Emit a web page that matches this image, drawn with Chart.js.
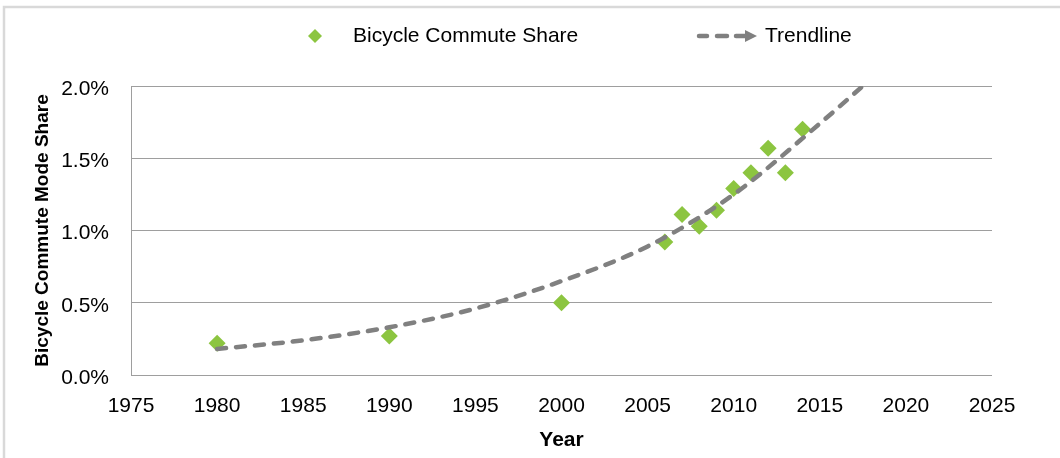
<!DOCTYPE html>
<html><head><meta charset="utf-8">
<script src="https://cdn.jsdelivr.net/npm/chart.js@4.4.1/dist/chart.umd.min.js"></script>
<style>html,body{margin:0;padding:0;background:#fff;}canvas{display:block;}</style>
</head><body>
<canvas id="c" width="1060" height="458"></canvas>
<script>
// ---- data ----
const years = [1980, 1990, 2000, 2006, 2007, 2008, 2009, 2010, 2011, 2012, 2013, 2014];
const sharePct = [0.22, 0.27, 0.50, 0.92, 1.11, 1.03, 1.14, 1.29, 1.40, 1.57, 1.40, 1.70];
const trendYears = [1980, 1985, 1990, 1995, 2000, 2005, 2010, 2015, 2017.5];
const trendPct = [0.18, 0.24, 0.33, 0.46, 0.65, 0.89, 1.25, 1.74, 2.00];
const xTickValues = [1975, 1980, 1985, 1990, 1995, 2000, 2005, 2010, 2015, 2020, 2025];
const yTickValues = [0, 0.5, 1.0, 1.5, 2.0];
const seriesLabels = ['Bicycle Commute Share', 'Trendline'];
const xTitle = 'Year';
const yTitle = 'Bicycle Commute Mode Share';

const FONT = "'Liberation Sans', Arial, sans-serif";
const GREEN = '#8cc540';
const GRAY = '#808080';
const GRID = '#9e9e9e';

Chart.defaults.font.family = FONT;
Chart.defaults.font.size = 21;
Chart.defaults.color = '#000';

const frame = {
  id: 'frame',
  beforeDraw(chart) {
    const ctx = chart.ctx;
    ctx.save();
    ctx.fillStyle = '#fff';
    ctx.fillRect(0, 0, chart.width, chart.height);
    ctx.strokeStyle = '#d9d9d9';
    ctx.lineWidth = 2.5;
    ctx.strokeRect(4, 7, 1200, 600);
    ctx.restore();
  }
};

const customLegend = {
  id: 'customLegend',
  afterDraw(chart) {
    const ctx = chart.ctx;
    const ds = chart.data.datasets;
    const y = 36;
    ctx.save();
    // diamond marker
    ctx.fillStyle = ds[0].backgroundColor;
    ctx.beginPath();
    ctx.moveTo(315 - 7, y); ctx.lineTo(315, y - 7); ctx.lineTo(315 + 7, y); ctx.lineTo(315, y + 7);
    ctx.closePath(); ctx.fill();
    ctx.font = '21px ' + FONT;
    ctx.textBaseline = 'middle';
    ctx.textAlign = 'left';
    ctx.fillStyle = '#000';
    ctx.fillText(ds[0].label, 353, y);
    // dashed arrow marker
    ctx.strokeStyle = ds[1].borderColor;
    ctx.fillStyle = ds[1].borderColor;
    ctx.lineWidth = 4.5;
    ctx.lineCap = 'round';
    [[699, 707], [717, 727], [736, 746]].forEach(([a, b]) => {
      ctx.beginPath(); ctx.moveTo(a, y); ctx.lineTo(b, y); ctx.stroke();
    });
    ctx.beginPath();
    ctx.moveTo(745, y - 6); ctx.lineTo(757, y); ctx.lineTo(745, y + 6); ctx.closePath(); ctx.fill();
    ctx.fillStyle = '#000';
    ctx.fillText(ds[1].label, 765, y);
    ctx.restore();
  }
};

new Chart(document.getElementById('c'), {
  type: 'scatter',
  data: {
    datasets: [
      {
        label: seriesLabels[0],
        data: years.map((x, i) => ({x, y: sharePct[i]})),
        backgroundColor: GREEN,
        borderColor: GREEN,
        pointStyle: 'rectRot',
        pointRadius: 8.5,
        pointBorderWidth: 0,
        order: 1
      },
      {
        label: seriesLabels[1],
        data: trendYears.map((x, i) => ({x, y: trendPct[i]})),
        showLine: true,
        borderColor: GRAY,
        backgroundColor: GRAY,
        borderWidth: 4.5,
        borderDash: [9, 10],
        borderCapStyle: 'round',
        cubicInterpolationMode: 'monotone',
        pointRadius: 0,
        fill: false,
        order: 0
      }
    ]
  },
  options: {
    responsive: false,
    animation: false,
    devicePixelRatio: 1,
    layout: { padding: { top: 86, right: 68, bottom: 0, left: 0 } },
    plugins: { legend: { display: false }, tooltip: { enabled: false } },
    scales: {
      x: {
        type: 'linear',
        min: 1975, max: 2025,
        afterBuildTicks: s => { s.ticks = xTickValues.map(v => ({value: v})); },
        afterFit: s => { s.height = 83; },
        grid: { display: false, drawTicks: false },
        border: { display: false },
        ticks: { padding: 19, color: '#000', font: { size: 21 }, maxRotation: 0, callback: v => String(v) },
        title: { display: true, text: xTitle, font: { size: 21, weight: 'bold' }, color: '#000', padding: { top: 0, bottom: 5 } }
      },
      y: {
        min: 0, max: 2.0,
        afterBuildTicks: s => { s.ticks = yTickValues.map(v => ({value: v})); },
        afterFit: s => { s.width = 131; },
        grid: { color: GRID, lineWidth: 1, drawTicks: false },
        border: { display: true, color: GRID, width: 1 },
        ticks: { padding: 22, labelOffset: 3, color: '#000', font: { size: 21 }, callback: v => v.toFixed(1) + '%' },
        title: { display: true, text: yTitle, font: { size: 19, weight: 'bold' }, color: '#000', padding: { top: 31, bottom: 0 } }
      }
    }
  },
  plugins: [frame, customLegend]
});
</script>
</body></html>
